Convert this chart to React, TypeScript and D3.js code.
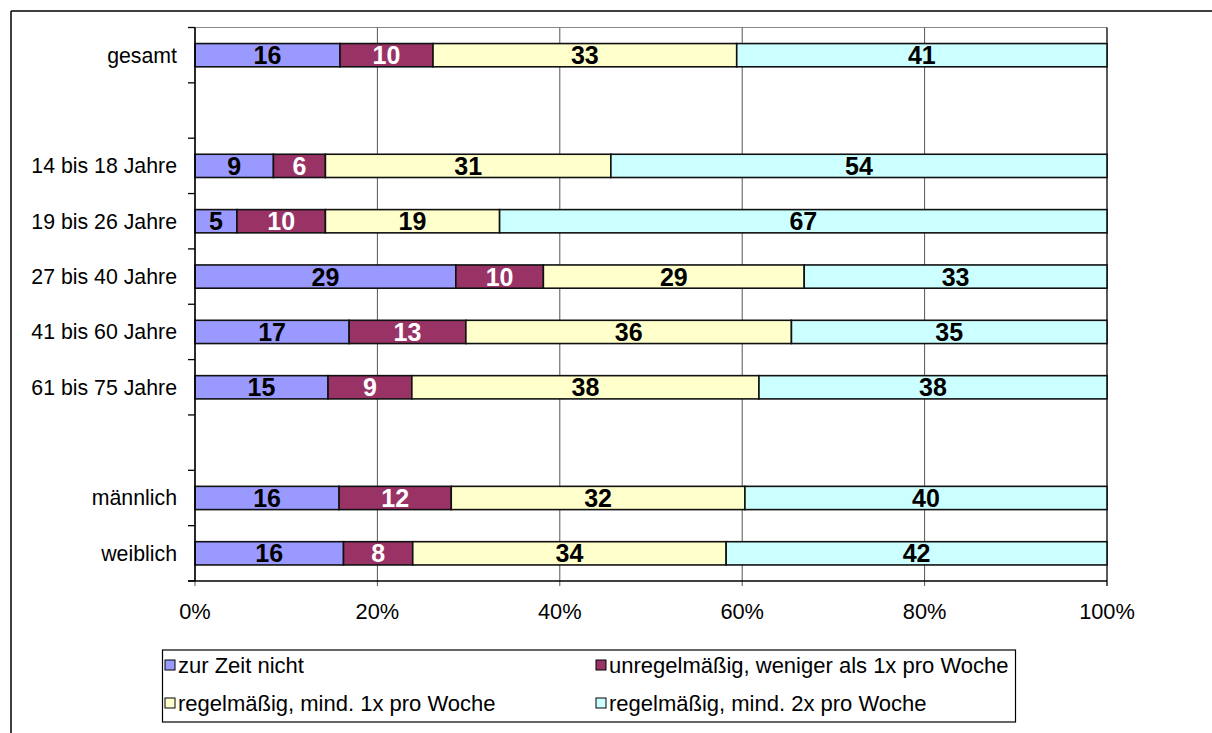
import React from "react";
import * as d3 from "d3";

const categories = [
  "gesamt",
  "",
  "14 bis 18 Jahre",
  "19 bis 26 Jahre",
  "27 bis 40 Jahre",
  "41 bis 60 Jahre",
  "61 bis 75 Jahre",
  " ",
  "männlich",
  "weiblich",
];

const seriesNames = [
  "zur Zeit nicht",
  "unregelmäßig, weniger als 1x pro Woche",
  "regelmäßig, mind. 1x pro Woche",
  "regelmäßig, mind. 2x pro Woche",
];

const seriesColors = ["#9999FF", "#993366", "#FFFFCC", "#CCFFFF"];
const labelColors = ["#000", "#fff", "#000", "#000"];

// values per category (null = empty slot)
const zurZeitNicht = [15.9, null, 8.6, 4.6, 28.6, 16.9, 14.6, null, 15.8, 16.3];
const unregelmaessig = [10.2, null, 5.7, 9.7, 9.6, 12.8, 9.2, null, 12.3, 7.6];
const mind1x = [33.3, null, 31.3, 19.1, 28.6, 35.7, 38.1, null, 32.2, 34.4];
const mind2x = [40.6, null, 54.4, 66.6, 33.2, 34.6, 38.2, null, 39.7, 41.8];

const xTicks = [0, 0.2, 0.4, 0.6, 0.8, 1];

const FONT = "'Liberation Sans', Arial, sans-serif";

export default function App() {
  const W = 1212;
  const H = 733;
  const left = 195;
  const right = 1107;
  const top = 27.5;
  const bottom = 581;

  const x = d3.scaleLinear().domain([0, 1]).range([left, right]);
  const y = d3
    .scaleBand<number>()
    .domain(d3.range(categories.length))
    .range([top, bottom])
    .paddingInner(0.58)
    .paddingOuter(0.29);
  const band = (bottom - top) / categories.length;

  const series = [zurZeitNicht, unregelmaessig, mind1x, mind2x];
  const rows = categories.map((c, i) => {
    const vals = series.map((s) => s[i]);
    if (vals.some((v) => v == null)) return null;
    const total = d3.sum(vals as number[]);
    let acc = 0;
    return (vals as number[]).map((v, k) => {
      const x0 = acc / total;
      acc += v;
      return { k, v, x0, x1: acc / total };
    });
  });

  const pct = d3.format(".0%");

  return (
    <svg
      width={W}
      height={H}
      style={{ position: "absolute", left: 0, top: 0, background: "#fff" }}
      fontFamily={FONT}
    >
      {/* outer frame */}
      <line x1={11} y1={11} x2={W} y2={11} stroke="#000" strokeWidth={1.5} />
      <line x1={11} y1={11} x2={11} y2={H} stroke="#000" strokeWidth={1.5} />

      {/* plot area border */}
      <line x1={left} y1={top} x2={right} y2={top} stroke="#888" strokeWidth={1.2} />

      {/* gridlines */}
      {xTicks.map((t) => (
        <line
          key={"g" + t}
          x1={x(t)}
          x2={x(t)}
          y1={top}
          y2={bottom + 5}
          stroke={t === 1 ? "#000" : "#555"}
          strokeWidth={t === 1 ? 1.3 : 1}
        />
      ))}

      {/* y ticks */}
      {d3.range(categories.length + 1).map((i) => (
        <line
          key={"yt" + i}
          x1={left - 7}
          x2={left}
          y1={top + i * band}
          y2={top + i * band}
          stroke="#000"
          strokeWidth={1.3}
        />
      ))}

      {/* bars */}
      {rows.map((r, i) =>
        r
          ? r.map((s) => (
              <rect
                key={"b" + i + "-" + s.k}
                x={x(s.x0)}
                y={y(i)}
                width={x(s.x1) - x(s.x0)}
                height={y.bandwidth()}
                fill={seriesColors[s.k]}
                stroke="#111"
                strokeWidth={1.6}
              />
            ))
          : null
      )}

      {/* bar labels */}
      {rows.map((r, i) =>
        r
          ? r.map((s) => (
              <text
                key={"l" + i + "-" + s.k}
                x={(x(s.x0) + x(s.x1)) / 2}
                y={(y(i) as number) + y.bandwidth() / 2}
                dy="0.36em"
                textAnchor="middle"
                fontWeight="bold"
                fontSize={25}
                fill={labelColors[s.k]}
              >
                {Math.round(s.v)}
              </text>
            ))
          : null
      )}

      {/* axes */}
      <line x1={left} x2={left} y1={top} y2={bottom} stroke="#000" strokeWidth={1.5} />
      <line x1={left - 7} x2={right} y1={bottom} y2={bottom} stroke="#000" strokeWidth={1.5} />

      {/* category labels */}
      {categories.map((c, i) =>
        c.trim() ? (
          <text
            key={"c" + i}
            x={177}
            y={top + (i + 0.5) * band}
            dy="0.35em"
            textAnchor="end"
            fontSize={21.3}
            fill="#000"
          >
            {c}
          </text>
        ) : null
      )}

      {/* x tick labels */}
      {xTicks.map((t) => (
        <text
          key={"xl" + t}
          x={x(t)}
          y={611}
          dy="0.35em"
          textAnchor="middle"
          fontSize={21.8}
          fill="#000"
        >
          {pct(t)}
        </text>
      ))}

      {/* legend */}
      <rect x={162.5} y={650} width={853} height={72} fill="#fff" stroke="#000" strokeWidth={1.2} />
      {seriesNames.map((n, k) => {
        const col = k % 2;
        const row = Math.floor(k / 2);
        const lx = col === 0 ? 165 : 596;
        const ly = row === 0 ? 665 : 703;
        return (
          <g key={"lg" + k}>
            <rect
              x={lx}
              y={ly - 5}
              width={10}
              height={10}
              fill={seriesColors[k]}
              stroke="#000"
              strokeWidth={1}
            />
            <text x={lx + 13} y={ly} dy="0.35em" fontSize={22} fill="#000">
              {n}
            </text>
          </g>
        );
      })}
    </svg>
  );
}
